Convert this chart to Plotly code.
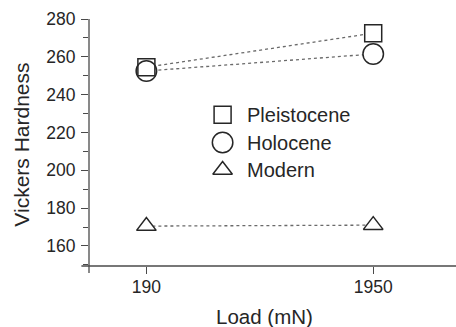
import plotly.graph_objects as go

# Load levels (mN) and Vickers hardness for each sample group
loads = ["190", "1950"]
pleistocene = [254.5, 272.5]
holocene = [252.5, 261.5]
modern = [170.5, 171.0]

series_names = ["Pleistocene", "Holocene", "Modern"]
series_values = [pleistocene, holocene, modern]
symbols = ["square", "circle", "triangle-up"]
sizes = [17, 20.5, 17]

INK = "#262626"
LINE_GREY = "#6a6a6a"
AXIS = "#4a4a4a"
FONT = "Liberation Sans, Arial, sans-serif"

W, H = 456, 327
L, R, T, B = 89.3, 0, 19.3, 61

fig = go.Figure()

# dotted connectors first, so the markers sit on top of them
for vals in series_values:
    fig.add_trace(go.Scatter(
        x=loads, y=vals, mode="lines",
        line=dict(color=LINE_GREY, width=1.3, dash="dot"),
        showlegend=False, hoverinfo="skip"))

# white fills hide the connectors inside each marker
for vals, sym, sz in zip(series_values, symbols, sizes):
    fig.add_trace(go.Scatter(
        x=loads, y=vals, mode="markers",
        marker=dict(symbol=sym, size=sz, color="white",
                    line=dict(width=0)),
        showlegend=False, hoverinfo="skip"))

# outlines drawn last so overlapping symbols stay visible
for name, vals, sym, sz in zip(series_names, series_values, symbols, sizes):
    fig.add_trace(go.Scatter(
        x=loads, y=vals, mode="markers", name=name,
        marker=dict(symbol=sym + "-open", size=sz, color=INK,
                    line=dict(width=1.5, color=INK)),
        showlegend=False))

# key: symbols on an overlay axis spanning the plot area, labels as annotations
key_x = 0.364
key_text_x = 0.424
key_y = [0.612, 0.500, 0.389]
for name, sym, sz, ky in zip(series_names, symbols, sizes, key_y):
    fig.add_trace(go.Scatter(
        x=[key_x], y=[ky], xaxis="x2", yaxis="y2", mode="markers",
        marker=dict(symbol=sym + "-open", size=sz, color=INK,
                    line=dict(width=1.5, color=INK)),
        showlegend=False, hoverinfo="skip"))
    fig.add_annotation(
        x=key_text_x, y=ky, xref="paper", yref="paper", text=name,
        showarrow=False, xanchor="left", yanchor="middle",
        font=dict(family=FONT, size=20, color=INK))

# axis titles
fig.add_annotation(
    x=0.479, y=-0.205, xref="paper", yref="paper", text="Load (mN)",
    showarrow=False, xanchor="center", yanchor="middle",
    font=dict(family=FONT, size=20.5, color=INK))
fig.add_annotation(
    x=-0.1835, y=0.49, xref="paper", yref="paper", text="Vickers Hardness",
    showarrow=False, xanchor="center", yanchor="middle", textangle=-90,
    font=dict(family=FONT, size=21, color=INK))

# offset axis lines that overshoot each other at the corner
plot_w = W - L - R
plot_h = H - T - B
fig.add_shape(type="line", xref="paper", yref="paper",
              x0=0, x1=0, y0=-7 / plot_h, y1=1,
              line=dict(color=AXIS, width=1.3))
fig.add_shape(type="line", xref="paper", yref="paper",
              x0=-7.6 / plot_w, x1=1, y0=0, y1=0,
              line=dict(color=AXIS, width=1.3))

fig.update_layout(
    width=W, height=H,
    margin=dict(l=L, r=R, t=T, b=B, pad=0),
    paper_bgcolor="white", plot_bgcolor="white",
    font=dict(family=FONT, color=INK),
    showlegend=False,
    xaxis=dict(
        type="category", range=[-0.253, 1.365],
        showgrid=False, zeroline=False, showline=False,
        ticks="outside", ticklen=7, tickwidth=1.3, tickcolor=AXIS,
        tickfont=dict(family=FONT, size=17.5, color=INK),
        ticklabelstandoff=-2),
    yaxis=dict(
        range=[149.4, 280], tickvals=[160, 180, 200, 220, 240, 260, 280],
        showgrid=False, zeroline=False, showline=False,
        ticks="outside", ticklen=7, tickwidth=1.3, tickcolor=AXIS,
        tickfont=dict(family=FONT, size=17.5, color=INK),
        ticklabelstandoff=2,
        minor=dict(dtick=10, tick0=150, ticks="outside", ticklen=5,
                   tickwidth=1.3, tickcolor=AXIS, showgrid=False)),
    xaxis2=dict(overlaying="x", range=[0, 1], visible=False),
    yaxis2=dict(overlaying="y", range=[0, 1], visible=False),
)

fig.write_html("out.html")
